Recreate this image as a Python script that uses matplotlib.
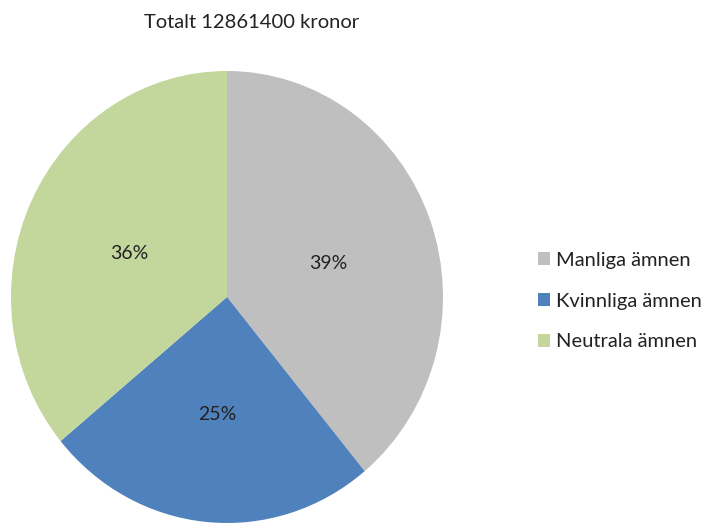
import matplotlib
matplotlib.use("Agg")
import matplotlib.pyplot as plt
from matplotlib.patches import Patch

categories = ["Manliga ämnen", "Kvinnliga ämnen", "Neutrala ämnen"]
shares = [39, 25, 36]
colors = ["#BFBFBF", "#4F81BD", "#C3D69B"]
title = "Totalt 12861400 kronor"

plt.rcParams["font.family"] = ["Lato", "DejaVu Sans"]

W, H = 704, 524
fig = plt.figure(figsize=(W / 100, H / 100), dpi=100)

# pie box in pixels (slightly stretched vertically, as in the original)
cx, cy, rx, ry = 227, 297, 216, 226
ax = fig.add_axes([(cx - rx) / W, (H - cy - ry) / H, 2 * rx / W, 2 * ry / H])
wedges, texts, autotexts = ax.pie(
    shares,
    colors=colors,
    startangle=90,
    counterclock=False,
    autopct="%d%%",
    pctdistance=0.5,
    textprops={"fontsize": 14, "color": "#222222"},
    wedgeprops={"linewidth": 0},
)
# labels sit a touch lower in the original
for t in autotexts:
    x, y = t.get_position()
    t.set_position((x, y - 0.02))
ax.set_aspect("auto")
ax.set_xlim(-1, 1)
ax.set_ylim(-1, 1)
ax.axis("off")

fig.text(252 / W, 1 - 23 / H, title, ha="center", va="center", fontsize=14.5, color="#222222")

handles = [Patch(facecolor=c, edgecolor="none") for c in colors]
fig.legend(
    handles,
    categories,
    loc="center left",
    bbox_to_anchor=(520 / W, 1 - 301 / H),
    frameon=False,
    fontsize=14.5,
    handlelength=0.6,
    handleheight=0.6,
    handletextpad=0.3,
    labelspacing=1.18,
    labelcolor="#222222",
)

fig.savefig("out.png", dpi=100)
